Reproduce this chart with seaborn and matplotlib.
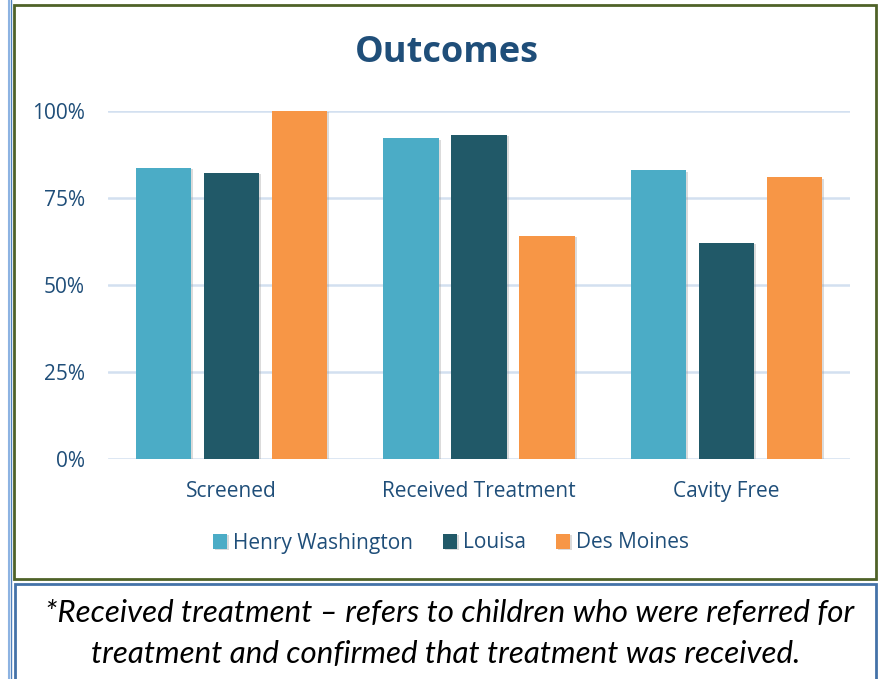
import numpy as np
import pandas as pd
import matplotlib
matplotlib.use("Agg")
import matplotlib.pyplot as plt
import matplotlib.patheffects as pe
from matplotlib.patches import Rectangle
from matplotlib.ticker import PercentFormatter
import seaborn as sns

sns.set_theme(style="white")
plt.rcParams['font.family'] = ['Open Sans', 'DejaVu Sans']

# Data
categories = ["Screened", "Received Treatment", "Cavity Free"]
sites = ["Henry Washington", "Louisa", "Des Moines"]
henry_washington = [0.836, 0.922, 0.830]
louisa = [0.822, 0.931, 0.621]
des_moines = [1.00, 0.641, 0.810]
colors = ["#4BACC6", "#215968", "#F79646"]

df = pd.DataFrame({
    "category": categories * 3,
    "site": [s for s in sites for _ in categories],
    "value": henry_washington + louisa + des_moines,
})

W, H = 879, 679
fig = plt.figure(figsize=(W / 100, H / 100), dpi=100)
ax = fig.add_axes([108 / W, 1 - 459 / H, (850 - 108) / W, (459 - 111) / H])

sns.barplot(data=df, x="category", y="value", hue="site", order=categories,
            hue_order=sites, palette=colors, width=0.825, gap=0.19,
            saturation=1, ax=ax, legend=True)

shadow = [pe.SimplePatchShadow(offset=(1.5, -1), shadow_rgbFace="#999999", alpha=0.35), pe.Normal()]
for p in ax.patches:
    p.set_path_effects(shadow)
    p.set_edgecolor("none")

txt = "#1F4E79"
ax.set_ylim(0, 1)
ax.set_xlim(-0.5, 2.5)
ax.set_yticks([0, 0.25, 0.5, 0.75, 1.0])
ax.yaxis.set_major_formatter(PercentFormatter(1.0, decimals=0))
ax.grid(axis="y", color="#D3E0F0", linewidth=1.8)
ax.set_axisbelow(True)
for s in ax.spines.values():
    s.set_visible(False)
ax.tick_params(axis="both", length=0, labelsize=15, labelcolor=txt)
ax.tick_params(axis="y", pad=16.5)
ax.tick_params(axis="x", pad=16)
ax.set_xlabel("")
ax.set_ylabel("")

handles, labels = ax.get_legend_handles_labels()
ax.legend_.remove()
fig.legend(handles, labels, loc="center", bbox_to_anchor=(451 / W, 1 - 543 / H),
           ncol=3, frameon=False, fontsize=15, handlelength=0.7, handleheight=0.7,
           handletextpad=0.3, columnspacing=1.4, labelcolor=txt)

fig.text(447 / W, 1 - 53 / H, "Outcomes", ha="center", va="center",
         fontsize=26, fontweight="bold", color=txt)

# borders around the chart and the footnote
fig.patches.append(Rectangle((14 / W, 1 - 579 / H), 862 / W, 574 / H, transform=fig.transFigure,
                             fill=False, edgecolor="#4F6228", linewidth=2))
fig.patches.append(Rectangle((15 / W, 1 - 700 / H), 861 / W, 116 / H, transform=fig.transFigure,
                             fill=False, edgecolor="#4472A8", linewidth=2))
fig.lines.append(plt.Line2D([9 / W, 9 / W], [0, 1], transform=fig.transFigure,
                            color="#8DB3E2", linewidth=1.5))
fig.lines.append(plt.Line2D([11.5 / W, 11.5 / W], [0, 1], transform=fig.transFigure,
                            color="#4F81BD", linewidth=1))

fig.text(450 / W, 1 - 613 / H, "*Received treatment \u2013 refers to children who were referred for",
         ha="center", va="center", fontsize=22.5, style="italic", family=["Lato", "DejaVu Sans"], color="black")
fig.text(446 / W, 1 - 654 / H, "treatment and confirmed that treatment was received.",
         ha="center", va="center", fontsize=22.5, style="italic", family=["Lato", "DejaVu Sans"], color="black")

fig.savefig("out.png", dpi=100)
